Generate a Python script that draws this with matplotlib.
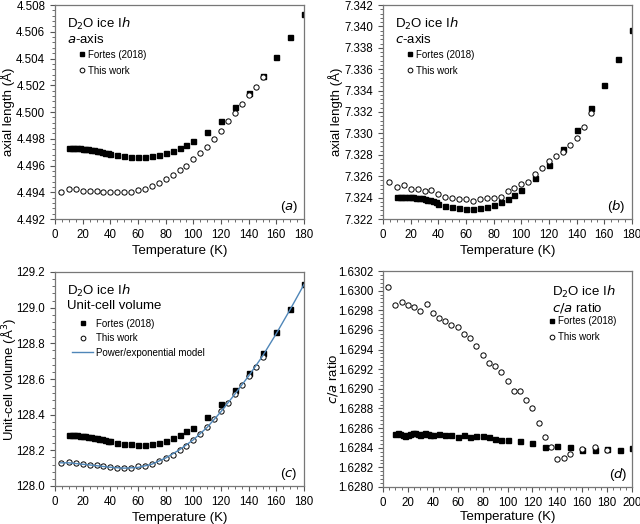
import numpy as np
import matplotlib
matplotlib.use("Agg")
import matplotlib.pyplot as plt
from matplotlib.ticker import AutoMinorLocator, MultipleLocator

plt.rcParams['font.family'] = ['Liberation Sans', 'DejaVu Sans']

# ---- data ----
# Fortes (2018): dense points 10-40 K, then every 5 K to 100, then every 10 K
T_fortes = [10, 12, 14, 16, 18, 20, 22, 24, 26, 28, 30, 32, 34, 36, 38, 40,
            45, 50, 55, 60, 65, 70, 75, 80, 85, 90, 95, 100,
            110, 120, 130, 140, 150, 160, 170, 180]
a_fortes = [4.49733, 4.49732, 4.49731, 4.49730, 4.49728, 4.49727, 4.49724, 4.49721,
            4.49717, 4.49713, 4.49709, 4.49705, 4.49700, 4.49696, 4.49692, 4.49688,
            4.49678, 4.49668, 4.49665, 4.49665, 4.49665, 4.49668, 4.49680, 4.49690,
            4.49708, 4.49730, 4.49753, 4.49780,
            4.49850, 4.49935, 4.50040, 4.50144, 4.50269, 4.50413, 4.50560, 4.50730]
c_fortes = [7.32410, 7.32410, 7.32409, 7.32408, 7.32406, 7.32404, 7.32402, 7.32400,
            7.32398, 7.32394, 7.32388, 7.32382, 7.32375, 7.32367, 7.32358, 7.32340,
            7.32325, 7.32310, 7.32300, 7.32290, 7.32298, 7.32305, 7.32315, 7.32335,
            7.32360, 7.32387, 7.32425, 7.32474,
            7.32580, 7.32708, 7.32851, 7.33030, 7.33240, 7.33452, 7.33700, 7.33970]
v_fortes = [128.286, 128.285, 128.285, 128.284, 128.282, 128.280, 128.278, 128.276,
            128.273, 128.270, 128.267, 128.264, 128.261, 128.258, 128.255, 128.252,
            128.243, 128.237, 128.233, 128.232, 128.232, 128.235, 128.243, 128.254,
            128.269, 128.284, 128.306, 128.328,
            128.386, 128.459, 128.541, 128.634, 128.744, 128.862, 128.993, 129.135]

T_fortes_ca = T_fortes + [190, 200]
ca_fortes = [1.62854, 1.62855, 1.62854, 1.62853, 1.62852, 1.62853, 1.62854, 1.62855,
             1.62855, 1.62854, 1.62853, 1.62854, 1.62855, 1.62854, 1.62853, 1.62853,
             1.62854, 1.62853, 1.62853, 1.62851, 1.62853, 1.62851, 1.62852, 1.62852,
             1.62851, 1.62849, 1.62848, 1.62848,
             1.62847, 1.62845, 1.62841, 1.62842, 1.62841, 1.62838, 1.62838, 1.62839,
             1.62838, 1.62840]

# This work
T_this = [4, 10, 15, 20, 25, 30, 35, 40, 45, 50, 55, 60, 65, 70, 75, 80, 85, 90, 95,
          100, 105, 110, 115, 120, 125, 130, 135, 140, 145, 150]
a_this = [4.49400, 4.49425, 4.49422, 4.49412, 4.49412, 4.49413, 4.49400, 4.49400,
          4.49402, 4.49402, 4.49405, 4.49418, 4.49425, 4.49445, 4.49470, 4.49500,
          4.49530, 4.49563, 4.49600, 4.49645, 4.49690, 4.49740, 4.49800, 4.49857,
          4.49930, 4.49995, 4.50060, 4.50130, 4.50190, 4.50264]
c_this = [7.32550, 7.32500, 7.32518, 7.32484, 7.32478, 7.32460, 7.32470, 7.32430,
          7.32410, 7.32400, 7.32387, 7.32390, 7.32370, 7.32390, 7.32400, 7.32398,
          7.32410, 7.32460, 7.32490, 7.32527, 7.32550, 7.32624, 7.32680, 7.32740,
          7.32790, 7.32830, 7.32890, 7.32960, 7.33060, 7.33190]
v_this = [128.127, 128.134, 128.131, 128.123, 128.119, 128.118, 128.110, 128.106,
          128.103, 128.101, 128.101, 128.110, 128.110, 128.125, 128.142, 128.157,
          128.174, 128.201, 128.226, 128.259, 128.289, 128.330, 128.373, 128.418,
          128.468, 128.515, 128.565, 128.616, 128.670, 128.726]

T_this_ca = T_this + [160, 170, 180]
ca_this = [1.63004, 1.62985, 1.62988, 1.62985, 1.62983, 1.62979, 1.62986, 1.62977,
           1.62972, 1.62969, 1.62965, 1.62963, 1.62956, 1.62952, 1.62944, 1.62934,
           1.62926, 1.62923, 1.62917, 1.62908, 1.62898, 1.62898, 1.62889, 1.62880,
           1.62865, 1.62851, 1.62841, 1.62829, 1.62830, 1.62834,
           1.62839, 1.62841, 1.62838]

# power/exponential model curve for the volume
T_model = [4, 10, 20, 30, 40, 50, 60, 70, 80, 90, 100, 110, 120, 130, 140, 150,
           160, 170, 180]
v_model = [128.130, 128.130, 128.122, 128.114, 128.105, 128.100, 128.104, 128.122,
           128.157, 128.203, 128.259, 128.329, 128.417, 128.515, 128.617, 128.728,
           128.855, 128.990, 129.130]


def style_axes(ax, xmax, xstep, ymin, ymax, ystep, yfmt, ylab, ylab_x, xlab_y=-0.148):
    ax.set_xlim(0, xmax)
    ax.set_ylim(ymin, ymax)
    ax.xaxis.set_major_locator(MultipleLocator(xstep))
    ax.yaxis.set_major_locator(MultipleLocator(ystep))
    ax.xaxis.set_minor_locator(AutoMinorLocator(4))
    ax.yaxis.set_minor_locator(AutoMinorLocator(5))
    ax.yaxis.set_major_formatter(plt.FormatStrFormatter(yfmt))
    ax.tick_params(which='both', direction='out', labelsize=8.3, color='#555555')
    ax.tick_params(which='major', length=3.5)
    ax.tick_params(which='minor', length=2)
    for s in ax.spines.values():
        s.set_color('#777777')
        s.set_linewidth(0.9)
    # label positions pinned to match the reference
    ax.set_xlabel('Temperature (K)', fontsize=9.5, va='center')
    ax.xaxis.set_label_coords(0.5, xlab_y)
    ax.set_ylabel(ylab, fontsize=9.5, va='center')
    ax.yaxis.set_label_coords(ylab_x, 0.5)


sq = dict(marker='s', ms=3.6, color='black', ls='none')
ci = dict(marker='o', ms=3.8, mfc='white', mec='black', mew=0.7, ls='none')
leg_kw = dict(frameon=False, fontsize=7, handletextpad=0.3, borderpad=0.2,
              borderaxespad=0.0, markerscale=0.9)

fig = plt.figure(figsize=(6.4, 5.24), dpi=100)
W, H = 640, 524


def add_ax(l, r, t, b):
    return fig.add_axes([l / W, 1 - b / H, (r - l) / W, (b - t) / H])


ax_a = add_ax(55, 304, 5, 219)
ax_b = add_ax(383, 632, 5, 219)
ax_c = add_ax(55, 304, 272, 486)
ax_d = add_ax(383, 632, 271, 487)

# (a)
ax_a.plot(T_fortes, a_fortes, label='Fortes (2018)', **sq)
ax_a.plot(T_this, a_this, label='This work', **ci)
style_axes(ax_a, 180, 20, 4.492, 4.508, 0.002, '%.3f', 'axial length (Å)', -0.19)
ax_a.text(0.05, 0.95, 'D$_2$O ice I$\\it{h}$\n$\\it{a}$-axis', transform=ax_a.transAxes,
          fontsize=9.5, va='top', linespacing=1.1)
ax_a.legend(loc='upper left', bbox_to_anchor=(0.09, 0.8), handlelength=0.6,
            labelspacing=0.6, **leg_kw)
ax_a.text(0.975, 0.02, '($\\it{a}$)', transform=ax_a.transAxes, fontsize=9.5, ha='right', va='bottom')

# (b)
ax_b.plot(T_fortes, c_fortes, label='Fortes (2018)', **sq)
ax_b.plot(T_this, c_this, label='This work', **ci)
style_axes(ax_b, 180, 20, 7.322, 7.342, 0.002, '%.3f', 'axial length (Å)', -0.19)
ax_b.text(0.05, 0.95, 'D$_2$O ice I$\\it{h}$\n$\\it{c}$-axis', transform=ax_b.transAxes,
          fontsize=9.5, va='top', linespacing=1.1)
ax_b.legend(loc='upper left', bbox_to_anchor=(0.09, 0.8), handlelength=0.6,
            labelspacing=0.6, **leg_kw)
ax_b.text(0.975, 0.02, '($\\it{b}$)', transform=ax_b.transAxes, fontsize=9.5, ha='right', va='bottom')

# (c)
ax_c.plot(T_fortes, v_fortes, label='Fortes (2018)', **sq)
ax_c.plot(T_this, v_this, label='This work', **ci)
ax_c.plot(T_model, v_model, color='#4f86b8', lw=1.0, label='Power/exponential model')
style_axes(ax_c, 180, 20, 128.0, 129.2, 0.2, '%.1f', 'Unit-cell volume (Å$^3$)', -0.185)
ax_c.text(0.05, 0.95, 'D$_2$O ice I$\\it{h}$\nUnit-cell volume', transform=ax_c.transAxes,
          fontsize=9.5, va='top', linespacing=1.1)
ax_c.legend(loc='upper left', bbox_to_anchor=(0.06, 0.79), handlelength=2.2,
            labelspacing=0.45, **leg_kw)
ax_c.text(0.975, 0.02, '($\\it{c}$)', transform=ax_c.transAxes, fontsize=9.5, ha='right', va='bottom')

# (d)
ax_d.plot(T_fortes_ca, ca_fortes, label='Fortes (2018)', **sq)
ax_d.plot(T_this_ca, ca_this, label='This work', **ci)
style_axes(ax_d, 200, 20, 1.6280, 1.6302, 0.0002, '%.4f', '$\\it{c/a}$ ratio', -0.2, -0.138)
ax_d.text(0.68, 0.94, 'D$_2$O ice I$\\it{h}$\n$\\it{c/a}$ ratio', transform=ax_d.transAxes,
          fontsize=9.5, va='top', linespacing=1.1)
ax_d.legend(loc='upper left', bbox_to_anchor=(0.66, 0.8), handlelength=0.6,
            labelspacing=0.6, **leg_kw)
ax_d.text(0.98, 0.02, '($\\it{d}$)', transform=ax_d.transAxes, fontsize=9.5, ha='right', va='bottom')

fig.savefig('out.png', dpi=100)
